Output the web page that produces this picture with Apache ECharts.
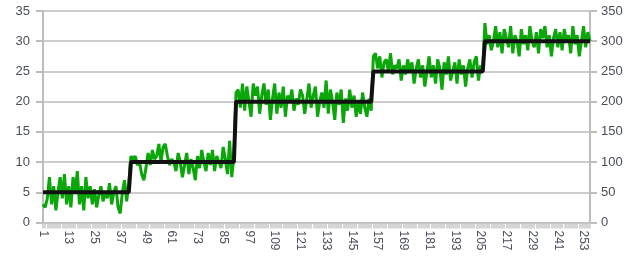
<!DOCTYPE html>
<html>
<head>
<meta charset="utf-8">
<script src="https://cdn.jsdelivr.net/npm/echarts@6/dist/echarts.min.js"></script>
<style>html,body{margin:0;padding:0;background:#fff}#c{width:636px;height:262px}</style>
</head>
<body>
<div id="c"></div>
<script>
// Categories 1..256
var categoryCount = 256;
// Green (noisy) series values
var greenSeg1 = [3,2.5,4,7.5,3,6,2,5,7.5,4,8,3,6,2.5,7.5,5,8.5,3,6,2,7.5,4,6,3,5.5,2.5,4.5,6,3.5,5,4,6.5,3,5,6,2.5,1.5,5,7,3.5,6.5];
var greenSeg2 = [11,10.5,11,9.5,10,8,7,9,11.5,9.5,12,10.5,11,13,10,12.5,13,11,9.5,10.5,10,8.5,11.5,10,7.5,9.5,11.5,8,10.5,9,7,11,9,12,10,8.5,11.5,9.5,12,8.5,11,10,9,12.5,10.5,8,13.5,7.5,11];
var greenSeg3 = [21.5,22,19,23,18.5,22.5,20,17.5,23,21,22.5,18,21,23,19.5,22,17,20.5,23,18,21.5,19,22.5,17.5,21,20,22,18.5,20.5,19.5,22,21,18,20.5,23,19,21,22.5,17.5,20,21.5,19,23.5,18,22,20,17,21.5,19.5,22,16.5,20.5,18.5,22,19,21,17.5,20,18,21.5,19,17.5,20.5,18.5];
var greenSeg4 = [27.5,28,25.5,27.5,24,26.5,27,25,28,24.5,26,25.5,27,23.5,26,24.5,27,25,26.5,23,25.5,27,24,26,22.5,25,27.5,24,26,23,27,25.5,22,26.5,24.5,27.5,23.5,25,26.5,23,27,24.5,26,22.5,25.5,27,24,26.5,27.5,23.5,26,25];
var greenSeg5 = [33,29.5,31,28.5,30,32.5,29,31.5,28,32,30.5,29,32.5,28,31,30,27.5,32,29.5,31,28.5,32.5,30,29,31.5,28,32,30.5,32.5,29,31,27.5,30.5,32,29,31.5,28.5,32,30,31,28,32.5,29.5,31,27.5,30,32.5,29,31.5,30];
// Black step series: level and number of points at that level
var stepLevels = [5, 10, 20, 25, 30];
var stepLengths = [41, 49, 64, 52, 50];
// Tick labels
var leftTicks = [0,5,10,15,20,25,30,35];
var rightTicks = [0,50,100,150,200,250,300,350];

var categories = [];
for (var i = 1; i <= categoryCount; i++) categories.push(String(i));
var green = [].concat(greenSeg1, greenSeg2, greenSeg3, greenSeg4, greenSeg5);
var black = [];
stepLevels.forEach(function (lv, k) { for (var j = 0; j < stepLengths[k]; j++) black.push(lv); });

var labelColor = '#4a4f5a';
var chart = echarts.init(document.getElementById('c'), null, {renderer: 'canvas'});
chart.setOption({
  animation: false,
  backgroundColor: '#fff',
  grid: {left: 43, right: 46, top: 11, bottom: 39.5, containLabel: false},
  xAxis: {
    type: 'category',
    data: categories,
    boundaryGap: false,
    axisLine: {lineStyle: {color: '#bdbdbd', width: 2}},
    axisTick: {show: true, interval: 0, length: 6, lineStyle: {color: '#c8c8c8', width: 1.5}},
    axisLabel: {interval: 11, rotate: -90, color: labelColor, fontSize: 12, fontFamily: 'Liberation Sans, Arial', margin: 8},
    splitLine: {show: false}
  },
  yAxis: [{
    type: 'value', min: 0, max: 35, interval: 5, position: 'left',
    axisLine: {show: true, lineStyle: {color: '#bdbdbd', width: 2}},
    axisTick: {show: true, length: 7, lineStyle: {color: '#bdbdbd', width: 2}},
    axisLabel: {color: labelColor, fontSize: 13, fontFamily: 'Liberation Sans, Arial', margin: 13,
      formatter: function (v) { return leftTicks.indexOf(v) >= 0 ? String(v) : ''; }},
    splitLine: {show: true, lineStyle: {color: '#cccccc', width: 2}}
  }, {
    type: 'value', min: 0, max: 350, interval: 50, position: 'right',
    axisLine: {show: true, lineStyle: {color: '#bdbdbd', width: 2}},
    axisTick: {show: true, length: 7, lineStyle: {color: '#bdbdbd', width: 2}},
    axisLabel: {color: labelColor, fontSize: 13, fontFamily: 'Liberation Sans, Arial', margin: 11,
      formatter: function (v) { return rightTicks.indexOf(v) >= 0 ? String(v) : ''; }},
    splitLine: {show: false}
  }],
  series: [{
    type: 'line', data: green, yAxisIndex: 0, showSymbol: false, symbol: 'none',
    lineStyle: {color: '#0aa60a', width: 3}, z: 2
  }, {
    type: 'line', data: black, yAxisIndex: 0, showSymbol: false, symbol: 'none',
    lineStyle: {color: '#111111', width: 4}, z: 3
  }]
});
</script>
</body>
</html>
